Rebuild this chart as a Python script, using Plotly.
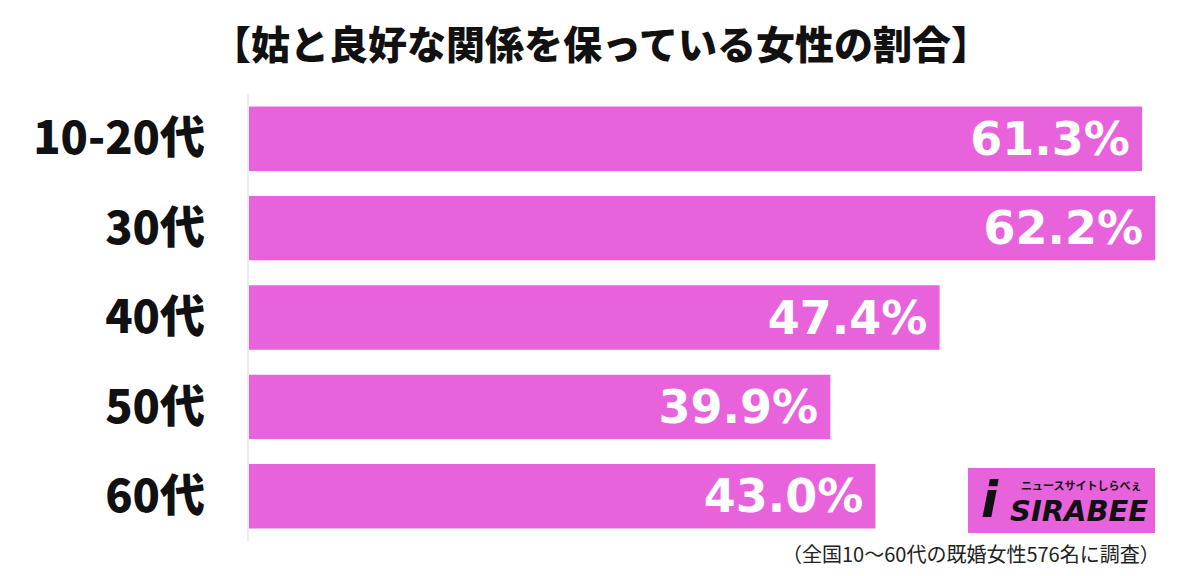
import plotly.graph_objects as go

categories = ["10-20代", "30代", "40代", "50代", "60代"]
values = [61.3, 62.2, 47.4, 39.9, 43.0]
value_labels = ["61.3%", "62.2%", "47.4%", "39.9%", "43.0%"]

BAR = "#E862DC"
FONT = "Noto Sans CJK JP"

fig = go.Figure(go.Bar(
    x=values, y=categories, orientation="h",
    marker=dict(color=BAR, line=dict(width=0)),
    width=0.72,
    text=[t + "\u2009" for t in value_labels],
    textposition="inside", insidetextanchor="end",
    textfont=dict(family="DejaVu Sans", size=46, color="white", weight="bold"),
    cliponaxis=False,
))

H = 576
T, B, L, R = 94, 35, 249, 20

def ypaper(py):
    return 1 - (py - T) / (H - T - B)

def xpaper(px):
    return (px - L) / (1200 - L - R)

fig.update_layout(
    width=1200, height=576,
    margin=dict(l=L, r=R, t=T, b=B),
    paper_bgcolor="white", plot_bgcolor="white",
    showlegend=False,
    uniformtext=dict(minsize=10, mode="show"),
    xaxis=dict(range=[0, 63.9], visible=False, fixedrange=True),
    yaxis=dict(
        autorange="reversed", showgrid=False, zeroline=False,
        showline=True, linecolor="#ececec", linewidth=2,
        ticks="", ticklabelstandoff=33,
        tickfont=dict(family=FONT, size=45, color="#111111", weight=900),
    ),
)

fig.add_annotation(text="【姑と良好な関係を保っている女性の割合】",
                   x=xpaper(601), y=ypaper(42), xref="paper", yref="paper",
                   showarrow=False, xanchor="center", yanchor="middle",
                   font=dict(family=FONT, size=39, color="#111111", weight=900))
fig.add_annotation(text="（全国10～60代の既婚女性576名に調査）",
                   x=xpaper(1162), y=ypaper(553), xref="paper", yref="paper",
                   showarrow=False, xanchor="right", yanchor="middle",
                   font=dict(family=FONT, size=20, color="#222222"))

# logo
fig.add_shape(type="rect", xref="paper", yref="paper",
              x0=xpaper(968), x1=xpaper(1155), y0=ypaper(533), y1=ypaper(468),
              fillcolor=BAR, line=dict(width=0), layer="above")
fig.add_annotation(text="<i>SIRABEE</i>", x=xpaper(1150), y=ypaper(511),
                   xref="paper", yref="paper", showarrow=False,
                   xanchor="right", yanchor="middle",
                   font=dict(family="DejaVu Sans", size=29, color="#111111", weight=900))
fig.add_annotation(text="ニュースサイトしらべぇ", x=xpaper(1143), y=ypaper(485),
                   xref="paper", yref="paper", showarrow=False,
                   xanchor="right", yanchor="middle",
                   font=dict(family=FONT, size=11, color="#111111", weight=700))
fig.add_annotation(text="<i>i</i>", x=xpaper(990), y=ypaper(500),
                   xref="paper", yref="paper", showarrow=False,
                   xanchor="center", yanchor="middle",
                   font=dict(family="DejaVu Sans", size=50, color="#111111", weight=900))

fig.write_html("out.html")
